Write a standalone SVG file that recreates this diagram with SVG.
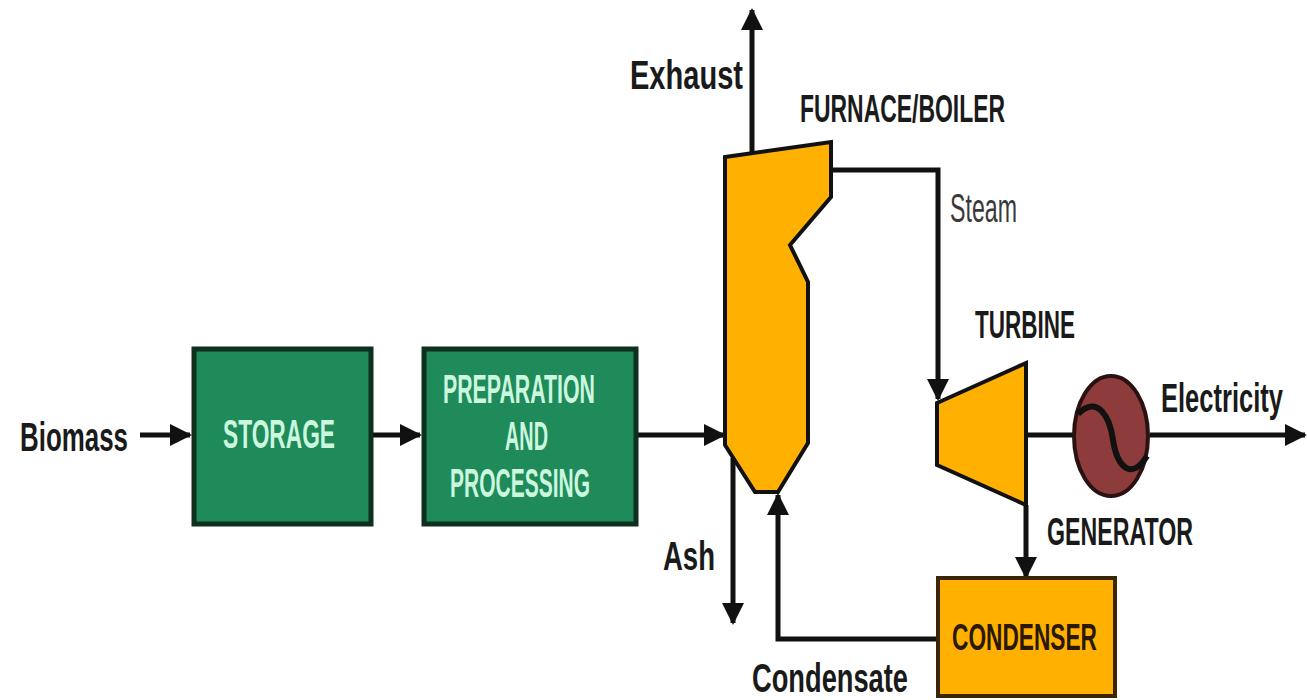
<svg xmlns="http://www.w3.org/2000/svg" width="1307" height="700" viewBox="0 0 1307 700">
<style>
.lbl{font-family:"Liberation Sans",Arial,sans-serif;font-weight:bold;font-size:40px;fill:#1a1a1a}
.lbl.light{font-weight:normal;fill:#3a3a3a}
.cap{font-family:"Liberation Sans",Arial,sans-serif;font-weight:bold;font-size:38px;fill:#1a1a1a}
.gtxt{font-family:"Liberation Sans",Arial,sans-serif;font-weight:bold;font-size:40px;fill:#ccf7df}
.ctxt{font-family:"Liberation Sans",Arial,sans-serif;font-weight:bold;font-size:37px;fill:#2a1800}
.green{fill:#1f8b5b;stroke:#0f2f1f;stroke-width:5}
.orange{fill:#ffb000;stroke:#111;stroke-width:4;stroke-linejoin:miter}
.cond{fill:#ffb000;stroke:#3a2600;stroke-width:4}
.gen{fill:#8e3b3b;stroke:#2b1212;stroke-width:4}
.wire{fill:none;stroke:#111;stroke-width:5}
.arr{fill:none;stroke:#111;stroke-width:5;marker-end:url(#ah)}
</style>
<defs>
<marker id="ah" markerUnits="userSpaceOnUse" markerWidth="22" markerHeight="22" refX="20" refY="11" orient="auto">
<path d="M0,0 L22,11 L0,22 z" fill="#111"/>
</marker>
</defs>
<rect width="1307" height="700" fill="#ffffff"/>

<g id="connectors">
<path class="arr" d="M140,435 L190,435"/>
<path class="arr" d="M372,435 L420,435"/>
<path class="arr" d="M637,435 L724,435"/>
<path class="arr" d="M752,156 L752,10"/>
<path class="arr" d="M831,170 L938,170 L938,399"/>
<path class="wire" d="M1026,435 L1073,435"/>
<path class="arr" d="M1150,435 L1305,435"/>
<path class="arr" d="M1026,505 L1026,577"/>
<path class="arr" d="M937,639 L778,639 L778,495"/>
<path class="arr" d="M733,458 L733,623"/>
</g>

<g id="biomass-label">
<text class="lbl" x="20" y="451" textLength="108" lengthAdjust="spacingAndGlyphs">Biomass</text>
</g>

<g id="storage">
<rect class="green" x="194" y="349" width="177" height="175"/>
<text class="gtxt" x="223" y="448" textLength="112" lengthAdjust="spacingAndGlyphs">STORAGE</text>
</g>

<g id="preparation">
<rect class="green" x="424" y="349" width="212" height="175"/>
<text class="gtxt" x="443" y="403" textLength="152" lengthAdjust="spacingAndGlyphs">PREPARATION</text>
<text class="gtxt" x="505" y="450" textLength="43" lengthAdjust="spacingAndGlyphs">AND</text>
<text class="gtxt" x="450" y="497" textLength="140" lengthAdjust="spacingAndGlyphs">PROCESSING</text>
</g>

<g id="furnace">
<polygon class="orange" points="725,157 831,142 831,197 790,245 808,282 808,443 778,492 755,492 725,445"/>
<text class="cap" x="800" y="122" textLength="205" lengthAdjust="spacingAndGlyphs">FURNACE/BOILER</text>
</g>

<g id="exhaust-label">
<text class="lbl" x="630" y="89" textLength="113" lengthAdjust="spacingAndGlyphs">Exhaust</text>
</g>

<g id="steam-label">
<text class="lbl light" x="950" y="222" textLength="67" lengthAdjust="spacingAndGlyphs">Steam</text>
</g>

<g id="turbine">
<polygon class="orange" points="937,403 1026,363 1026,505 937,465"/>
<text class="cap" x="975" y="338" textLength="100" lengthAdjust="spacingAndGlyphs">TURBINE</text>
</g>

<g id="generator">
<ellipse class="gen" cx="1111" cy="436" rx="37" ry="60"/>
<path d="M1078,414 C1098,394 1110,418 1113,440 C1117,466 1131,482 1147,456" fill="none" stroke="#111" stroke-width="6"/>
<text class="cap" x="1047" y="545" textLength="146" lengthAdjust="spacingAndGlyphs">GENERATOR</text>
</g>

<g id="electricity-label">
<text class="lbl" x="1161" y="412" font-size="36" textLength="122" lengthAdjust="spacingAndGlyphs">Electricity</text>
</g>

<g id="condenser">
<rect class="cond" x="938" y="578" width="177" height="118"/>
<text class="ctxt" x="952" y="650" textLength="145" lengthAdjust="spacingAndGlyphs">CONDENSER</text>
</g>

<g id="ash-label">
<text class="lbl" x="663" y="570" textLength="52" lengthAdjust="spacingAndGlyphs">Ash</text>
</g>

<g id="condensate-label">
<text class="lbl" x="752" y="692" font-size="37" textLength="156" lengthAdjust="spacingAndGlyphs">Condensate</text>
</g>
</svg>
